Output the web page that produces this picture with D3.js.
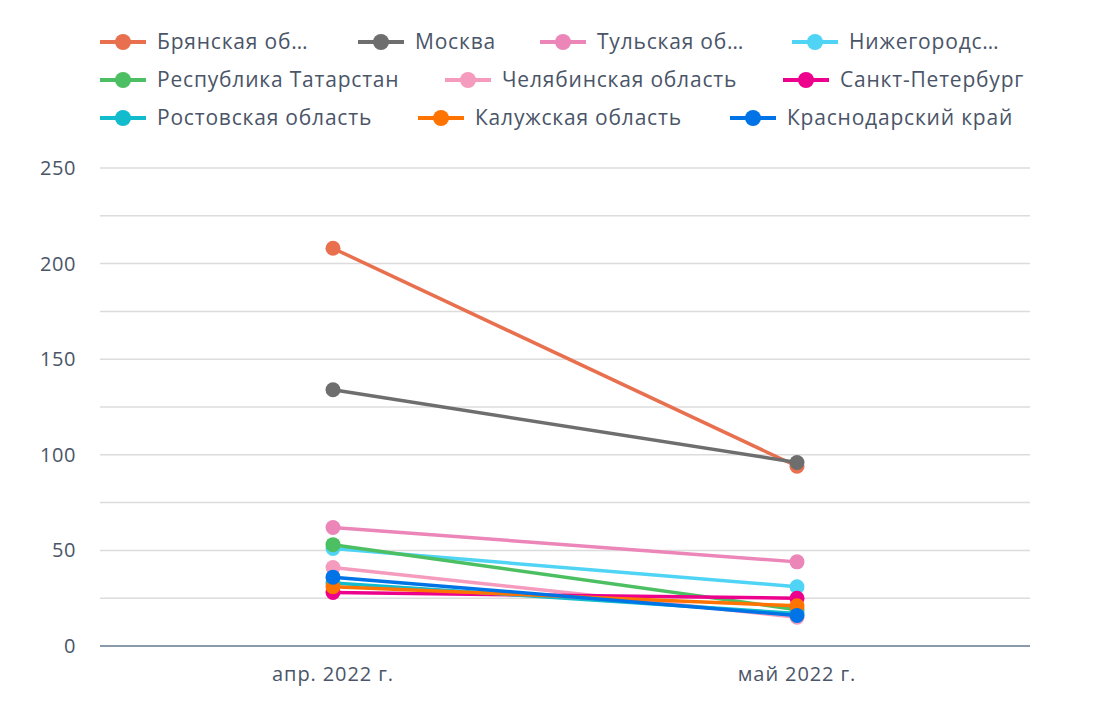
<!DOCTYPE html><html><head><meta charset="utf-8"><script src="https://cdn.jsdelivr.net/npm/d3@7"></script>
<style>body{margin:0;background:#fff}text{font-family:"Open Sans",sans-serif}</style></head><body><svg id="c" width="1110" height="710"></svg>
<script>
const categories=["апр. 2022 г.","май 2022 г."];
const seriesNames=["Брянская об…","Москва","Тульская об…","Нижегородс…","Республика Татарстан","Челябинская область","Санкт-Петербург","Ростовская область","Калужская область","Краснодарский край"];
const seriesColors=["#e8704f","#6e6e6e","#ec86b8","#4fd4f5","#4cbf62","#f59bbd","#ec008c","#12bccc","#ff7300","#0073e6"];
const aprValues=[208,134,62,51,53,41,28,33,31,36];
const mayValues=[94,96,44,31,19,15,25,17,21,16];
const yTicks=[0,50,100,150,200,250];
const legendX=[[100,358,540,792],[100,445,783],[100,418,730]];
const svg=d3.select("#c");
const x=d3.scalePoint().domain(categories).range([333,797]);
const y=d3.scaleLinear().domain([0,250]).range([646,168]);
d3.range(0,251,25).forEach(v=>svg.append("line").attr("x1",100).attr("x2",1030).attr("y1",y(v)).attr("y2",y(v)).attr("stroke",v?"#dcdcdc":"#8a9aab").attr("stroke-width",v?1.5:2));
yTicks.forEach(v=>svg.append("text").attr("x",76).attr("y",y(v)+7).attr("text-anchor","end").attr("font-size",20).attr("letter-spacing",0.6).attr("fill","#4a5568").text(v));
categories.forEach(c=>svg.append("text").attr("x",x(c)).attr("y",681).attr("text-anchor","middle").attr("font-size",20).attr("letter-spacing",0.9).attr("fill","#4a5568").text(c));
const line=d3.line().x(d=>x(d[0])).y(d=>y(d[1]));
seriesNames.forEach((n,i)=>{
 const pts=[[categories[0],aprValues[i]],[categories[1],mayValues[i]]];
 svg.append("path").attr("d",line(pts)).attr("fill","none").attr("stroke",seriesColors[i]).attr("stroke-width",3.5);
 pts.forEach(p=>svg.append("circle").attr("cx",x(p[0])).attr("cy",y(p[1])).attr("r",7.5).attr("fill",seriesColors[i]));
});
let k=0;
legendX.forEach((row,r)=>row.forEach(lx=>{
 const i=k++,ly=42+r*38;
 const g=svg.append("g");
 g.append("line").attr("x1",lx).attr("x2",lx+46).attr("y1",ly).attr("y2",ly).attr("stroke",seriesColors[i]).attr("stroke-width",4);
 g.append("circle").attr("cx",lx+23).attr("cy",ly).attr("r",8).attr("fill",seriesColors[i]);
 g.append("text").attr("x",lx+57).attr("y",ly+7).attr("font-size",21).attr("letter-spacing",0.8).attr("fill","#4a5568").text(seriesNames[i]);
}));
</script></body></html>
